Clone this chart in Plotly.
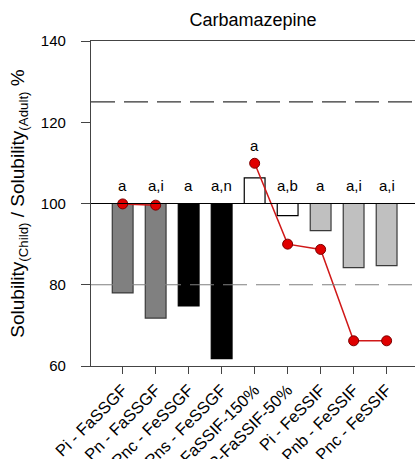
import plotly.graph_objects as go
import numpy as np

categories = ["Pi - FaSSGF", "Pn - FaSSGF", "Pnc - FeSSGF", "Pns - FeSSGF",
              "P-FaSSIF-150%", "P-FaSSIF-50%", "Pi - FeSSIF", "Pnb - FeSSIF", "Pnc - FeSSIF"]
bar_values = [78.0, 71.8, 74.8, 61.8, 106.3, 97.0, 93.3, 84.2, 84.7]
line_values = [99.9, 99.6, None, None, 109.9, 90.0, 88.7, 66.2, 66.2]
letters = ["a", "a,i", "a", "a,n", "a", "a,b", "a", "a,i", "a,i"]
bar_fill = ["#808080", "#808080", "#000000", "#000000", "#ffffff", "#ffffff",
            "#c0c0c0", "#c0c0c0", "#c0c0c0"]
bar_line = ["#3a3a3a", "#3a3a3a", "#000000", "#000000", "#000000", "#000000",
            "#3a3a3a", "#3a3a3a", "#3a3a3a"]
baseline = 100
upper_limit = 125
lower_limit = 80

FONT = "Arial, Liberation Sans, sans-serif"
x = list(range(len(categories)))

fig = go.Figure()
fig.add_trace(go.Bar(
    x=x, y=[v - baseline for v in bar_values], base=baseline,
    width=0.63,
    marker=dict(color=bar_fill, line=dict(color=bar_line, width=1.2)),
    showlegend=False, hoverinfo="skip",
))
fig.add_trace(go.Scatter(
    x=x, y=line_values, mode="lines+markers", connectgaps=False,
    line=dict(color="#d01818", width=1.5),
    marker=dict(color="#e00000", size=10, line=dict(color="#7a0000", width=1)),
    showlegend=False,
))

# reference lines
fig.add_shape(type="line", xref="paper", x0=0, x1=1, yref="y", y0=upper_limit, y1=upper_limit,
              line=dict(color="#333333", width=1.2, dash="24px,9px"), layer="above")
fig.add_shape(type="line", xref="paper", x0=0, x1=1, yref="y", y0=lower_limit, y1=lower_limit,
              line=dict(color="#808080", width=1.2, dash="24px,9px"), layer="above")
fig.add_shape(type="line", xref="paper", x0=0, x1=1, yref="y", y0=baseline, y1=baseline,
              line=dict(color="#000000", width=1.2), layer="above")

# significance letters
for i, t in enumerate(letters):
    top = max([baseline, bar_values[i]] + ([line_values[i]] if line_values[i] is not None else []))
    fig.add_annotation(x=i, y=top + 4.4, text=t, showarrow=False,
                       font=dict(family=FONT, size=15, color="#000000"),
                       xanchor="center", yanchor="middle")

fig.update_layout(
    width=415, height=459,
    margin=dict(l=91, r=0, t=41, b=93, autoexpand=False),
    paper_bgcolor="white", plot_bgcolor="white",
    title=dict(text="Carbamazepine", x=0.5, xref="paper", xanchor="center",
               y=1 - 20 / 459, yanchor="middle",
               font=dict(family=FONT, size=18, color="#000000")),
    font=dict(family=FONT, color="#000000"),
    xaxis=dict(range=[-0.96, 8.86], tickmode="array", tickvals=x, ticktext=categories,
               tickangle=-45, ticks="outside", ticklen=7, tickcolor="#444444",
               automargin=False,
               showline=True, linecolor="#444444", linewidth=1.2, mirror=True,
               showgrid=False, zeroline=False,
               tickfont=dict(family=FONT, size=16.5, color="#000000")),
    yaxis=dict(range=[60, 140], tickvals=[60, 80, 100, 120, 140],
               ticks="outside", ticklen=9, tickcolor="#444444",
               ticklabelstandoff=12, automargin=False,
               showline=True, linecolor="#444444", linewidth=1.2,
               showgrid=False, zeroline=False,
               tickfont=dict(family=FONT, size=15, color="#000000"),
               title=dict(text="Solubility<sub>(Child)</sub> / Solubility<sub>(Adult)</sub> %",
                          font=dict(family=FONT, size=19, color="#000000"), standoff=11)),
)

fig.write_html("out.html")
